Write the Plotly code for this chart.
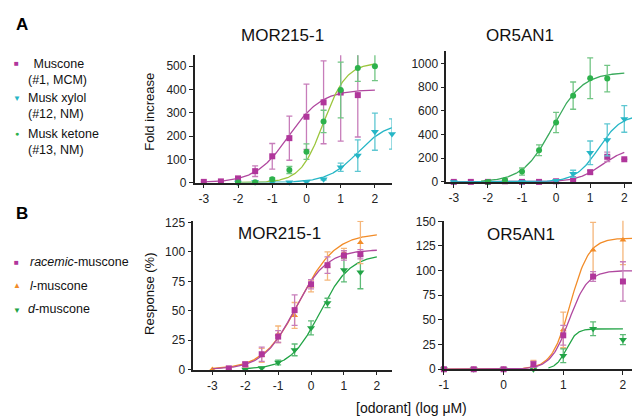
import numpy as np
import plotly.graph_objects as go

W, H = 640, 416

# ---------------- DATA ----------------
# Panel A, MOR215-1 (fold increase)
a1_muscone_x = [-3, -2.5, -2, -1.5, -1, -0.5, 0, 0.5, 1, 1.5]
a1_muscone_y = [3, 5, 18, 49, 113, 191, 283, 345, 387, 376]
a1_muscone_e = [0, 0, 5, 23, 55, 95, 140, 178, 209, 180]
a1_ketone_x = [-2, -1.5, -1, -0.5, 0, 0.5, 1, 1.5, 2]
a1_ketone_y = [0, 1, 14, 54, 133, 263, 398, 493, 500]
a1_ketone_e = [0, 0, 6, 15, 33, 48, 120, 58, 62]
a1_xylol_x = [-2, -1.5, -1, -0.5, 0, 0.5, 1, 1.5, 2, 2.5]
a1_xylol_y = [0, 2, 1, 1, 4, 14, 66, 116, 219, 209]
a1_xylol_e = [0, 0, 0, 0, 0, 3, 18, 68, 80, 65]

# Panel A, OR5AN1 (fold increase)
a2_muscone_x = [-3, -2.5, -2, -1.5, -1, -0.5, 0, 0.5, 1, 1.5, 2]
a2_muscone_y = [0, 0, 0, 5, 0, 0, 5, 22, 82, 212, 191]
a2_muscone_e = [0, 0, 0, 0, 0, 0, 0, 5, 15, 40, 0]
a2_ketone_x = [-2, -1.5, -1, -0.5, 0, 0.5, 1, 1.5]
a2_ketone_y = [0, 14, 87, 267, 501, 728, 875, 872]
a2_ketone_e = [0, 5, 30, 45, 85, 115, 172, 112]
a2_xylol_x = [-3, -2, -1, 0, 0.5, 1, 1.5, 2, 2.5]
a2_xylol_y = [0, 0, 0, 10, 68, 245, 354, 531, 523]
a2_xylol_e = [0, 0, 0, 0, 30, 100, 135, 112, 92]

# Panel B, MOR215-1 (response %)
b1_rac_x = [-2.5, -2, -1.5, -1, -0.5, 0, 0.5, 1, 1.5]
b1_rac_y = [1, 4.4, 13, 28, 50.5, 72.5, 88.7, 97, 98]
b1_rac_e = [1, 2, 6, 5, 13, 4, 7, 4, 4]
b1_l_x = [-3, -2.5, -2, -1.5, -1, -0.5, 0, 0.5, 1, 1.5]
b1_l_y = [0, 0.5, 4, 12, 30, 46, 71, 88, 99, 108]
b1_l_e = [0, 0, 2, 6, 7, 11, 5, 12, 4, 18]
b1_d_x = [-2, -1.5, -1, -0.5, 0, 0.5, 1, 1.5]
b1_d_y = [0, 1.4, 6, 16.7, 35.4, 56.6, 84.6, 82.7]
b1_d_e = [0, 0, 2, 5, 6, 4, 10, 14]

# Panel B, OR5AN1 (response %)
b2_rac_x = [-1, -0.5, 0, 0.5, 1, 1.5, 2]
b2_rac_y = [0, 0, 0, 5, 34.4, 94, 89]
b2_rac_e = [0, 0, 0, 3, 10, 5, 20]
b2_l_x = [-1, -0.5, 0, 0.5, 1, 1.5, 2]
b2_l_y = [0, 0, 0, 4, 40, 121, 131]
b2_l_e = [0, 0, 0, 5, 18, 28, 25]
b2_d_x = [-1, -0.5, 0, 0.5, 1, 1.5, 2]
b2_d_y = [0, 0, 0, 0, 13.8, 41, 30]
b2_d_e = [0, 0, 0, 0, 7, 7, 5]

# Fitted dose-response parameters: [top, logEC50, hill, x_start, x_end]
fit_a1_muscone = [400, -0.52, 0.9, -3, 2]
fit_a1_ketone = [515, 0.5, 1.3, -2, 2]
fit_a1_xylol = [260, 1.5, 1.0, -2, 2.5]
fit_a2_muscone = [290, 1.35, 1.2, -3, 2]
fit_a2_ketone = [925, -0.1, 1.0, -2.2, 2]
fit_a2_xylol = [570, 1.25, 1.3, -3, 2.5]
fit_b1_rac = [102, -0.5, 0.9, -3, 2]
fit_b1_l = [116, -0.35, 0.8, -3, 2]
fit_b1_d = [98, 0.28, 0.95, -2, 2]
fit_b2_rac = [100, 1.1, 2.8, -1, 2.42]
fit_b2_l = [133, 1.12, 2.8, -1, 2.42]
fit_b2_d = [41, 1.05, 5.0, 0.75, 2]

# ---------------- STYLE ----------------
MAG = "#B0369B"; MAG_E = "#C77DBA"; MAG_L = "#B0489F"
CYA = "#26B6C6"; CYA_E = "#5EC7D2"
GRN = "#2DB24C"; GRN_E = "#72C584"; YGRN = "#9CC63E"; GRN_L2 = "#3AAA5C"
ORG = "#F28C28"; ORG_E = "#F5B67A"
DGR = "#22A446"; DGR_E = "#5DBB77"
FONT = "Liberation Sans, Arial, sans-serif"
AX = "#222222"

fig = go.Figure()


def curve(params):
    top, ec, h, x0, x1 = params
    xs = np.linspace(x0, x1, 200)
    return xs, top / (1 + 10 ** ((ec - xs) * h))


def add_series(xa, ya, x, y, e, fit, color, ecolor, lcolor, symbol, size):
    cx, cy = curve(fit)
    fig.add_trace(go.Scatter(x=cx, y=cy, mode="lines", xaxis=xa, yaxis=ya,
                             line=dict(color=lcolor, width=1.3), showlegend=False,
                             hoverinfo="skip", cliponaxis=False))
    fig.add_trace(go.Scatter(x=x, y=y, mode="markers", xaxis=xa, yaxis=ya,
                             marker=dict(symbol=symbol, size=size, color=color),
                             error_y=dict(type="data", array=e, visible=True, color=ecolor,
                                          thickness=1.3, width=3),
                             showlegend=False, cliponaxis=False))


# Panel A left
add_series("x", "y", a1_muscone_x, a1_muscone_y, a1_muscone_e, fit_a1_muscone, MAG, MAG_E, MAG_L, "square", 6)
add_series("x", "y", a1_xylol_x, a1_xylol_y, a1_xylol_e, fit_a1_xylol, CYA, CYA_E, CYA, "triangle-down", 7)
add_series("x", "y", a1_ketone_x, a1_ketone_y, a1_ketone_e, fit_a1_ketone, GRN, GRN_E, YGRN, "circle", 6)
# Panel A right
add_series("x2", "y2", a2_muscone_x, a2_muscone_y, a2_muscone_e, fit_a2_muscone, MAG, MAG_E, MAG_L, "square", 6)
add_series("x2", "y2", a2_xylol_x, a2_xylol_y, a2_xylol_e, fit_a2_xylol, CYA, CYA_E, CYA, "triangle-down", 7)
add_series("x2", "y2", a2_ketone_x, a2_ketone_y, a2_ketone_e, fit_a2_ketone, GRN, GRN_E, GRN_L2, "circle", 6)
# Panel B left
add_series("x3", "y3", b1_d_x, b1_d_y, b1_d_e, fit_b1_d, DGR, DGR_E, DGR, "triangle-down", 7)
add_series("x3", "y3", b1_l_x, b1_l_y, b1_l_e, fit_b1_l, ORG, ORG_E, ORG, "triangle-up", 6)
add_series("x3", "y3", b1_rac_x, b1_rac_y, b1_rac_e, fit_b1_rac, MAG, MAG_E, MAG_L, "square", 6)
# Panel B right
add_series("x4", "y4", b2_d_x, b2_d_y, b2_d_e, fit_b2_d, DGR, DGR_E, DGR, "triangle-down", 7)
add_series("x4", "y4", b2_l_x, b2_l_y, b2_l_e, fit_b2_l, ORG, ORG_E, ORG, "triangle-up", 6)
add_series("x4", "y4", b2_rac_x, b2_rac_y, b2_rac_e, fit_b2_rac, MAG, MAG_E, MAG_L, "square", 6)


def px(x0, x1):
    return [x0 / W, x1 / W]


def py(ytop, ybot):
    return [1 - ybot / H, 1 - ytop / H]


def xax(domain, rng, anchor, tickvals):
    return dict(domain=domain, range=rng, anchor=anchor, showline=True, linecolor=AX, linewidth=1.5,
                ticks="outside", ticklen=4, tickwidth=1.2, tickcolor=AX, showgrid=False, zeroline=False,
                tickvals=tickvals, ticktext=[str(v) for v in tickvals],
                tickfont=dict(family=FONT, size=12, color=AX))


def yax(domain, rng, anchor, dtick):
    return dict(domain=domain, range=rng, anchor=anchor, showline=True, linecolor=AX, linewidth=1.5,
                ticks="outside", ticklen=4, tickwidth=1.2, tickcolor=AX, showgrid=False, zeroline=False,
                dtick=dtick, tick0=0, tickfont=dict(family=FONT, size=12, color=AX))


xt_a = [-3, -2, -1, 0, 1, 2]
xt_b1 = [-3, -2, -1, 0, 1, 2]
xt_b2 = [-1, 0, 1, 2]

fig.update_layout(
    width=W, height=H, margin=dict(l=0, r=0, t=0, b=0),
    paper_bgcolor="white", plot_bgcolor="white",
    font=dict(family=FONT, color="#111"),
    xaxis=xax(px(183, 382), [-3.27, 2.5], "y", xt_a),
    yaxis=yax(py(42.7, 174), [0, 547], "x", 100),
    xaxis2=xax(px(436.7, 635), [-3.22, 2.55], "y2", xt_a),
    yaxis2=yax(py(38.3, 173.3), [0, 1104], "x2", 200),
    xaxis3=xax(px(181.7, 382.3), [-3.58, 2.47], "y3", xt_b1),
    yaxis3=yax(py(213.3, 367), [0, 126.6], "x3", 25),
    xaxis4=xax(px(434.3, 640), [-1, 2.42], "y4", xt_b2),
    yaxis4=yax(py(213.3, 366.7), [0, 150.7], "x4", 25),
)

ann = []


def A(text, x, y, size=12, color="#111", xanchor="center", textangle=0, **kw):
    ann.append(dict(text=text, x=x / W, y=1 - y / H, xref="paper", yref="paper", showarrow=False,
                    xanchor=xanchor, yanchor="middle", textangle=textangle,
                    font=dict(family=FONT, size=size, color=color), **kw))


A("<b>A</b>", 9, 11, size=17, color="#000")
A("<b>B</b>", 9, 206, size=17, color="#000")
A("MOR215-1", 272, 22, size=17)
A("OR5AN1", 511, 22, size=17)
A("MOR215-1", 269, 227, size=17)
A("OR5AN1", 512, 228, size=17)
A("Fold increase", 138, 101, size=13, textangle=-90)
A("Response (%)", 138, 289, size=13, textangle=-90)
A("[odorant] (log μM)", 402, 407, size=14)

# Legend A
A("■", 4, 51, size=8, color=MAG)
A(" Muscone", 15, 52, size=12.5, xanchor="left")
A("(#1, MCM)", 13, 68, size=12.5, xanchor="left")
A("▼", 4, 87, size=8, color=CYA)
A("Musk xylol", 13, 87, size=12.5, xanchor="left")
A("(#12, NM)", 13, 103, size=12.5, xanchor="left")
A("●", 4, 123, size=7, color=GRN)
A("Musk ketone", 13, 124, size=12.5, xanchor="left")
A("(#13, NM)", 13, 140, size=12.5, xanchor="left")

# Legend B
A("■", 4, 256, size=8, color=MAG)
A("<i>racemic</i>-muscone", 15, 256, size=12.5, xanchor="left")
A("▲", 4, 280, size=8, color=ORG)
A("<i>l</i>-muscone", 15, 281, size=12.5, xanchor="left")
A("▼", 4, 306, size=8, color=DGR)
A("<i>d</i>-muscone", 13, 305, size=12.5, xanchor="left")

fig.update_layout(annotations=ann)

fig.write_html("out.html")
